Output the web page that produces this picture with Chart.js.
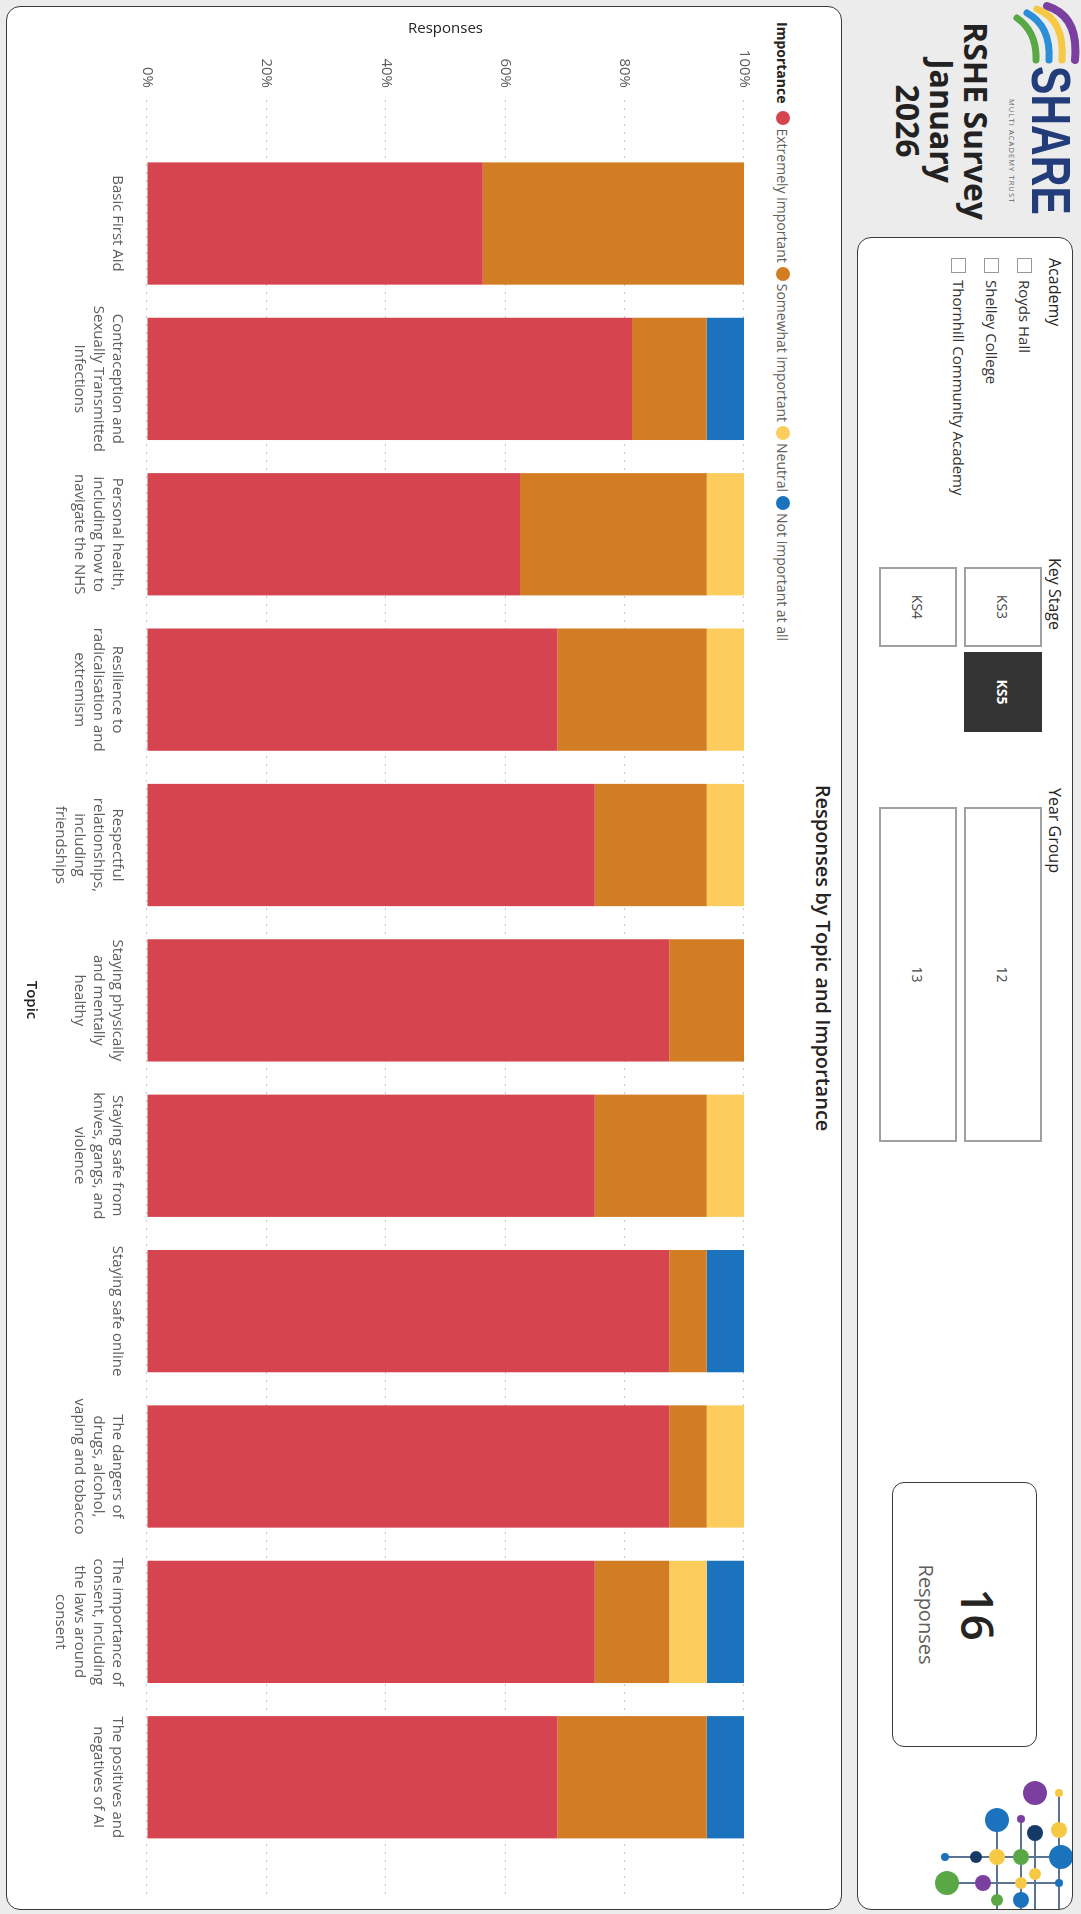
<html>
<head>
<meta charset="utf-8">
<script src="https://cdn.jsdelivr.net/npm/chart.js"></script>
<style>
  body { margin: 0; width: 1081px; height: 1914px; overflow: hidden; background: #ececec; font-family: "Open Sans", sans-serif; }
  /* the dashboard is laid out landscape and turned a quarter clockwise */
  #dash { position: absolute; left: 0; top: 0; width: 1914px; height: 1081px; background: #ececec;
          transform-origin: 0 0; transform: translate(1081px, 0) rotate(90deg); }
  .abs { position: absolute; white-space: nowrap; }
  .panel { position: absolute; background: #fff; border: 1.5px solid #3a3a3a; border-radius: 14px; box-sizing: border-box; }
  .slicer-title { font-size: 16px; color: #252423; line-height: 20px; }
  .check { position: absolute; width: 13px; height: 13px; border: 1px solid #9a9a9a; background: #fff; }
  .item { font-size: 15px; color: #333; line-height: 20px; }
  .tile { position: absolute; box-sizing: border-box; border: 2px solid #a0a0a0; background: #fff;
          display: flex; align-items: center; justify-content: center; font-size: 14px; color: #444; }
  .tile.on { background: #333; border-color: #333; color: #fff; font-weight: 700; }
  #legend { position: absolute; left: 22px; top: 289px; height: 18px; display: flex; align-items: center; font-size: 14px; color: #605e5c; }
  #legend b { color: #252423; margin-right: 8px; }
  #legend .dot { width: 14px; height: 14px; border-radius: 50%; margin-right: 3px; }
  #legend span { margin-right: 4px; }
</style>
</head>
<body>
<div id="dash">

  <!-- logo and heading -->
  <svg class="abs" style="left:0;top:0" width="66" height="80">
    <path d="M 6 34 Q 16 2 60 6" stroke="#7b3fa0" stroke-width="8" fill="none" stroke-linecap="round"/>
    <path d="M 9 44 Q 20 16 60 19" stroke="#f6c945" stroke-width="7" fill="none" stroke-linecap="round"/>
    <path d="M 13 54 Q 26 30 60 32" stroke="#2a8fd6" stroke-width="7" fill="none" stroke-linecap="round"/>
    <path d="M 18 64 Q 32 44 60 45" stroke="#5aa845" stroke-width="7" fill="none" stroke-linecap="round"/>
  </svg>
  <div class="abs" style="left:66px;top:2px;font:700 56px 'Liberation Sans',sans-serif;line-height:56px;color:#233d7b;transform:scaleX(0.76);transform-origin:0 0">SHARE</div>
  <div class="abs" style="left:99px;top:64px;font-size:7.5px;letter-spacing:1.1px;color:#666">MULTI ACADEMY TRUST</div>
  <div class="abs" style="left:0;top:88px;width:242px;text-align:center;font-weight:700;font-size:32px;line-height:34px;color:#222">RSHE Survey<br>January<br>2026</div>

  <!-- filter panel -->
  <div class="panel" style="left:237px;top:8px;width:1673px;height:216px;overflow:hidden">
    <svg style="position:absolute;left:1530px;top:-1px" width="150" height="160">
      <g transform="translate(-1768,-7)" id="net"></g>
    </svg>
  </div>
  <div class="abs slicer-title" style="left:258px;top:16px">Academy</div>
  <div class="check" style="left:258px;top:49px"></div>
  <div class="abs item" style="left:280px;top:46px">Royds Hall</div>
  <div class="check" style="left:258px;top:82px"></div>
  <div class="abs item" style="left:280px;top:79px">Shelley College</div>
  <div class="check" style="left:258px;top:115px"></div>
  <div class="abs item" style="left:280px;top:112px">Thornhill Community Academy</div>

  <div class="abs slicer-title" style="left:558px;top:16px">Key Stage</div>
  <div class="tile" style="left:567px;top:39px;width:80px;height:78px">KS3</div>
  <div class="tile on" style="left:652px;top:39px;width:80px;height:78px">KS5</div>
  <div class="tile" style="left:567px;top:124px;width:80px;height:78px">KS4</div>

  <div class="abs slicer-title" style="left:788px;top:16px">Year Group</div>
  <div class="tile" style="left:807px;top:39px;width:335px;height:78px">12</div>
  <div class="tile" style="left:807px;top:124px;width:335px;height:78px">13</div>

  <div class="panel" style="left:1482px;top:44px;width:265px;height:145px;border-radius:12px"></div>
  <div class="abs" id="total" style="left:1482px;top:74px;width:265px;text-align:center;font-size:46px;font-weight:600;line-height:56px;color:#252423"></div>
  <div class="abs" style="left:1482px;top:141px;width:265px;text-align:center;font-size:20px;line-height:28px;color:#605e5c">Responses</div>

  <!-- chart panel -->
  <div class="panel" style="left:6px;top:239px;width:1904px;height:836px"></div>
  <div class="abs" style="left:6px;top:245px;width:1904px;text-align:center;font-weight:600;font-size:20px;line-height:26px;color:#252423">Responses by Topic and Importance</div>
  <div id="legend"><b>Importance</b></div>
  <canvas id="chart" class="abs" style="left:6px;top:316px" width="1904" height="756"></canvas>
</div>

<script>
  const topics = [
    ['Basic First Aid'],
    ['Contraception and', 'Sexually Transmitted', 'Infections'],
    ['Personal health,', 'including how to', 'navigate the NHS'],
    ['Resilience to', 'radicalisation and', 'extremism'],
    ['Respectful', 'relationships,', 'including', 'friendships'],
    ['Staying physically', 'and mentally', 'healthy'],
    ['Staying safe from', 'knives, gangs, and', 'violence'],
    ['Staying safe online'],
    ['The dangers of', 'drugs, alcohol,', 'vaping and tobacco'],
    ['The importance of', 'consent, including', 'the laws around', 'consent'],
    ['The positives and', 'negatives of AI']
  ];

  // number of responses per topic for each importance level
  const extremelyImportant = [9, 13, 10, 11, 12, 14, 12, 14, 14, 12, 11];
  const somewhatImportant  = [7, 2, 5, 4, 3, 2, 3, 1, 1, 2, 4];
  const neutral            = [0, 0, 1, 1, 1, 0, 1, 0, 1, 1, 0];
  const notImportant       = [0, 1, 0, 0, 0, 0, 0, 1, 0, 1, 1];

  const seriesNames  = ['Extremely important', 'Somewhat important', 'Neutral', 'Not important at all'];
  const seriesColors = ['#d6444f', '#d27c24', '#fccc5c', '#1b73bd'];
  const percentTicks = [0, 20, 40, 60, 80, 100];
  const totalResponses = 16;

  const counts = [extremelyImportant, somewhatImportant, neutral, notImportant];
  const totals = topics.map((t, i) => counts.reduce((s, c) => s + c[i], 0));

  document.getElementById('total').textContent = totalResponses;

  // legend
  let legend = document.getElementById('legend');
  seriesNames.forEach((name, k) => {
    let dot = document.createElement('div');
    dot.className = 'dot';
    dot.style.background = seriesColors[k];
    let txt = document.createElement('span');
    txt.textContent = name;
    legend.appendChild(dot);
    legend.appendChild(txt);
  });

  // network of dots in the corner
  const netLines = [
    [1820, 83, 1914, 83], [1819, 59, 1914, 59], [1833, 45, 1914, 45], [1793, 21, 1914, 21],
    [1857, 14, 1857, 135], [1883, 21, 1883, 133]
  ];
  const netDots = [
    [1793, 45, 12, '#7b3fa0'], [1793, 21, 4, '#f6c945'], [1820, 83, 12, '#1b73bd'], [1819, 59, 4, '#7b3fa0'],
    [1833, 45, 8, '#163a66'], [1830, 21, 8, '#f6c945'], [1857, 135, 4, '#1b73bd'], [1857, 104, 6, '#163a66'],
    [1857, 83, 8, '#f6c945'], [1857, 59, 8, '#5aa845'], [1857, 19, 12, '#1b73bd'], [1883, 133, 12, '#5aa845'],
    [1883, 97, 8, '#7b3fa0'], [1883, 59, 6, '#f6c945'], [1874, 45, 6, '#f6c945'], [1883, 21, 4, '#1b73bd'],
    [1900, 83, 6, '#5aa845'], [1900, 59, 8, '#1b73bd']
  ];
  let net = '';
  netLines.forEach(l => { net += `<line x1="${l[0]}" y1="${l[1]}" x2="${l[2]}" y2="${l[3]}" stroke="#5a7391" stroke-width="2"/>`; });
  netDots.forEach(d => { net += `<circle cx="${d[0]}" cy="${d[1]}" r="${d[2]}" fill="${d[3]}"/>`; });
  document.getElementById('net').innerHTML = net;

  const font = "'Open Sans', sans-serif";

  const datasets = seriesNames.map((name, k) => ({
    label: name,
    data: counts[k].map((v, i) => ({x: i, y: v / totals[i] * 100})),
    backgroundColor: seriesColors[k],
    borderWidth: 0,
    barPercentage: 0.787,
    categoryPercentage: 1
  }));

  new Chart(document.getElementById('chart'), {
    type: 'bar',
    data: {datasets: datasets},
    options: {
      responsive: false,
      animation: false,
      layout: {padding: {top: 18, right: 10, left: 0, bottom: 0}},
      plugins: {
        legend: {display: false},
        tooltip: {enabled: false}
      },
      scales: {
        x: {
          type: 'linear',
          stacked: true,
          offset: false,
          min: -0.795,
          max: 10.79,
          grid: {display: false},
          border: {display: false},
          afterBuildTicks: axis => { axis.ticks = topics.map((t, i) => ({value: i})); },
          afterFit: axis => { axis.height = 138; },
          ticks: {
            autoSkip: false,
            maxRotation: 0,
            padding: 12,
            color: '#605e5c',
            font: {family: font, size: 15, lineHeight: 1.27},
            callback: v => topics[v]
          },
          title: {
            display: true,
            text: 'Topic',
            color: '#252423',
            font: {family: font, size: 15, weight: '600'},
            padding: {top: 4, bottom: 13}
          }
        },
        y: {
          stacked: true,
          min: 0,
          max: 100,
          afterBuildTicks: axis => { axis.ticks = percentTicks.map(v => ({value: v})); },
          afterFit: axis => { axis.width = 94; },
          grid: {color: '#c8c6c4', drawTicks: false},
          border: {display: false, dash: [2, 6]},
          ticks: {
            padding: 12,
            color: '#605e5c',
            font: {family: font, size: 15},
            callback: v => v + '%'
          },
          title: {
            display: true,
            text: 'Responses',
            color: '#252423',
            font: {family: font, size: 15},
            padding: {top: 14, bottom: 0}
          }
        }
      }
    }
  });
</script>
</body>
</html>
